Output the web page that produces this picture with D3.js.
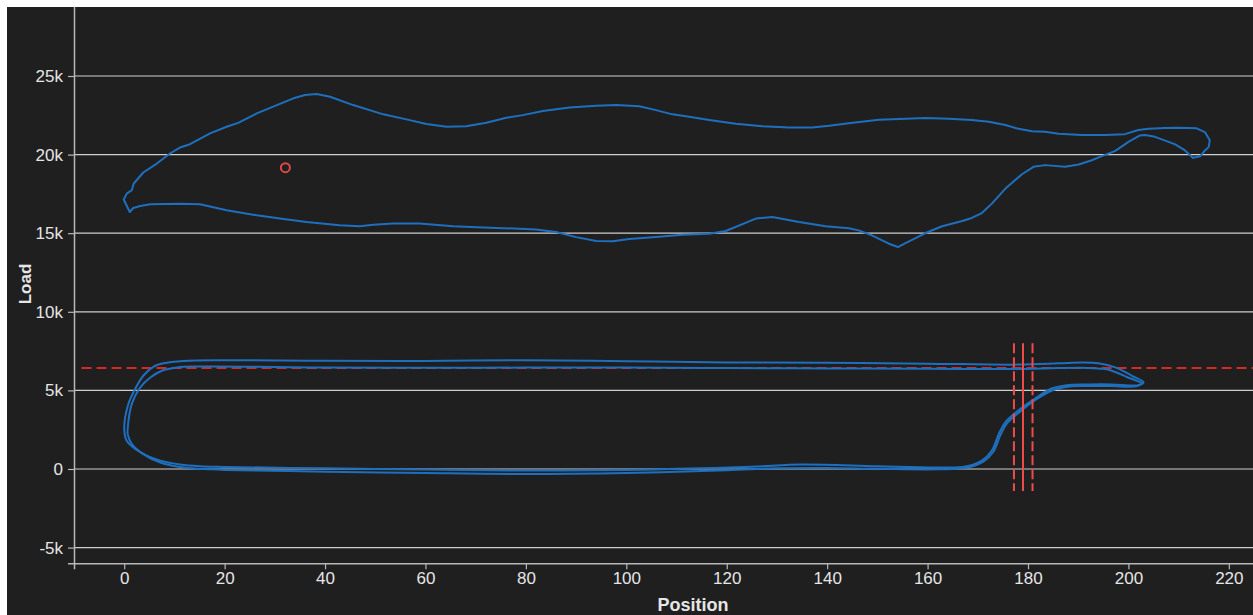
<!DOCTYPE html>
<html>
<head>
<meta charset="utf-8">
<script src="https://cdn.jsdelivr.net/npm/d3@7"></script>
<style>
  html, body { margin: 0; padding: 0; background: #ffffff; overflow: hidden; }
  svg { display: block; }
  text { font-family: "Liberation Sans", Arial, sans-serif; }
</style>
</head>
<body>
<svg id="chart" width="1253" height="615"></svg>
<script>
// ---------------- DATA ----------------
const xTicks = [0, 20, 40, 60, 80, 100, 120, 140, 160, 180, 200, 220];
const yTicks = [-5000, 0, 5000, 10000, 15000, 20000, 25000];
const xLabel = "Position";
const yLabel = "Load";

// upper closed loop [position, load]
const upperLoop = [
  [-0.1, 17140], [0.5, 17520], [1.5, 17730], [1.9, 18160], [3.8, 18860], [6.5, 19430],
  [9.1, 20070], [11.1, 20450], [13.1, 20660], [17.1, 21350], [20.4, 21770], [22.7, 22020],
  [26.4, 22620], [30.4, 23150], [33.7, 23580], [36.0, 23790], [38.3, 23850], [41.0, 23680],
  [45.6, 23150], [51.6, 22560], [56.2, 22240], [60.2, 21940], [64.2, 21770], [68.1, 21810],
  [72.1, 22020], [76.1, 22340], [79.4, 22510], [83.4, 22770], [88.7, 23000], [94.0, 23110],
  [98.0, 23150], [102.6, 23070], [105.9, 22830], [109.2, 22560], [112.5, 22410], [116.5, 22200],
  [121.8, 21960], [127.1, 21810], [132.4, 21730], [137.0, 21730], [140.4, 21830], [144.3, 22000],
  [150.3, 22220], [154.3, 22260], [159.6, 22320], [164.2, 22280], [168.8, 22200], [172.2, 22090],
  [175.5, 21880], [178.1, 21640], [180.8, 21490], [183.4, 21450], [186.1, 21320], [190.7, 21240],
  [195.4, 21240], [199.3, 21300], [202.0, 21560], [204.0, 21640], [207.3, 21690], [209.9, 21700],
  [213.6, 21670], [215.3, 21410], [216.2, 20920], [216.0, 20490], [215.3, 20280], [214.3, 19900],
  [212.9, 19790], [212.3, 19960], [211.2, 20280], [209.3, 20650], [208.0, 20810], [205.3, 21130],
  [203.3, 21240], [202.3, 21220], [200.0, 20810], [197.4, 20240], [194.7, 19900], [192.7, 19640],
  [190.1, 19370], [187.4, 19220], [183.4, 19330], [181.1, 19220], [178.8, 18750], [175.5, 17840],
  [172.8, 16880], [170.8, 16280], [168.8, 15970], [166.9, 15780], [162.9, 15440], [159.6, 15010],
  [155.6, 14370], [154.1, 14120], [152.3, 14330], [148.9, 14860], [146.3, 15180], [144.3, 15310],
  [139.7, 15440], [134.4, 15710], [129.1, 16030], [125.8, 15930], [119.8, 15140], [116.5, 14970],
  [111.2, 14900], [105.9, 14750], [100.6, 14630], [97.3, 14480], [94.0, 14500], [90.0, 14750],
  [86.0, 15070], [82.0, 15240], [78.7, 15290], [74.1, 15330], [69.1, 15390], [65.5, 15440],
  [58.8, 15610], [53.5, 15610], [49.6, 15540], [46.9, 15440], [42.9, 15500], [36.3, 15710],
  [31.0, 15930], [26.4, 16140], [20.4, 16460], [15.1, 16840], [11.1, 16880], [5.2, 16840],
  [3.2, 16730], [1.8, 16600], [1.1, 16350]
];

// lower closed loops [position, load]
const lowerLoopA = [
  [0.0, 2600], [0.8, 4100], [2.2, 5100], [3.8, 5930], [5.8, 6500], [7.8, 6720], [11.8, 6870],
  [20, 6920], [40, 6880], [60, 6870], [80, 6920], [100, 6860], [120, 6780], [140, 6760],
  [160, 6700], [178, 6640], [186, 6720], [191, 6780], [194, 6730], [197.4, 6460], [200.7, 5930],
  [203.0, 5510], [202.0, 5330], [196.7, 5380], [192, 5380], [188.7, 5360], [184.7, 5120],
  [181.4, 4480], [178.1, 3730], [175.5, 2980], [174.2, 2240], [172.8, 1180], [170.8, 540],
  [167.5, 160], [162.3, 100], [150, 170], [135, 280], [125, 140], [110, 10], [100, -60],
  [80, -100], [60, -40], [40, 40], [20, 130], [15.1, 170], [11.1, 280], [7.2, 530], [4.5, 850],
  [2.2, 1280], [0.5, 1800]
];
const lowerLoopB = [
  [0.7, 2600], [1.5, 4130], [3.2, 5190], [5.2, 5820], [7.5, 6250], [10.5, 6460], [15.1, 6520],
  [40, 6460], [60, 6440], [80, 6450], [100, 6450], [120, 6420], [140, 6400], [160, 6380],
  [178, 6360], [186, 6420], [192, 6430], [195, 6370], [196.7, 6250], [199.9, 5820], [202.6, 5440],
  [201.5, 5260], [196.7, 5280], [192, 5280], [188.7, 5260], [184.7, 4980], [181.4, 4380],
  [178.4, 3650], [175.8, 2900], [174.5, 2150], [173.1, 1100], [171.1, 470], [167.8, 90],
  [162.3, -20], [150, 10], [140, 60], [130, 40], [120, -80], [100, -250], [80, -320], [60, -260],
  [40, -170], [20, -60], [17.1, -20], [11.8, 90], [7.2, 410], [3.8, 950], [1.5, 1600], [0.7, 2200]
];

const thresholdLoad = [6430];          // red dashed horizontal
const limitPositions = [177.2, 179.0, 180.9]; // dashed, solid, dashed verticals
const limitLoadRange = [8000, -1400];
const markerPoint = [[32.1, 19170]];

// ---------------- CHART ----------------
const svg = d3.select("#chart");
const W = 1253, H = 615;

svg.append("rect").attr("x", 7).attr("y", 7).attr("width", W).attr("height", H).attr("fill", "#1f1f1f");

const x = d3.scaleLinear().domain([-10, 236.5]).range([74, 1311.7]);
const y = d3.scaleLinear().domain([-6000, 29580]).range([563.3, 4]);

// grid lines
svg.append("g").selectAll("line").data(yTicks).join("line")
  .attr("x1", x(-10)).attr("x2", W)
  .attr("y1", d => y(d)).attr("y2", d => y(d))
  .attr("stroke", "#cfcfcf").attr("stroke-width", 1.2);

// axes
const fmtY = d => d === 0 ? "0" : (d / 1000) + "k";
const gx = svg.append("g").attr("transform", `translate(0,${y(-6000)})`)
  .call(d3.axisBottom(x).tickValues(xTicks).tickSize(6).tickPadding(3));
const gy = svg.append("g").attr("transform", `translate(${x(-10)},0)`)
  .call(d3.axisLeft(y).tickValues(yTicks).tickFormat(fmtY).tickSize(6).tickPadding(5));
[gx, gy].forEach(g => {
  g.select(".domain").attr("stroke", "#b8b8b8").attr("stroke-width", 1.5);
  g.selectAll(".tick line").attr("stroke", "#b8b8b8").attr("stroke-width", 1.2);
  g.selectAll(".tick text").attr("fill", "#e6e6e6").style("font-size", "17px")
    .style("font-family", "'Liberation Sans', Arial, sans-serif");
});

// axis titles
svg.append("text").attr("x", 693).attr("y", 611).attr("text-anchor", "middle")
  .attr("fill", "#e6e6e6").style("font-size", "18px").style("font-weight", "bold").text(xLabel);
svg.append("text").attr("transform", "translate(31,284) rotate(-90)").attr("text-anchor", "middle")
  .attr("fill", "#e6e6e6").style("font-size", "17px").style("font-weight", "bold").text(yLabel);

// threshold dashed horizontal
svg.append("g").selectAll("line").data(thresholdLoad).join("line")
  .attr("x1", x(-8.5)).attr("x2", W)
  .attr("y1", d => y(d)).attr("y2", d => y(d))
  .attr("stroke", "#d42a2a").attr("stroke-width", 2).attr("stroke-dasharray", "10,5");

// loops
const lineLinear = d3.line().x(d => x(d[0])).y(d => y(d[1])).curve(d3.curveLinearClosed);
const lineSmooth = d3.line().x(d => x(d[0])).y(d => y(d[1])).curve(d3.curveCatmullRomClosed.alpha(0.5));

svg.append("path").datum(upperLoop).attr("d", lineLinear)
  .attr("fill", "none").attr("stroke", "#1f6fbf").attr("stroke-width", 2).attr("stroke-linejoin", "round");
[lowerLoopA, lowerLoopB].forEach(loop => {
  svg.append("path").datum(loop).attr("d", lineSmooth)
    .attr("fill", "none").attr("stroke", "#1f6fbf").attr("stroke-width", 2).attr("stroke-linejoin", "round");
});

// vertical limit lines
svg.append("g").selectAll("line").data(limitPositions).join("line")
  .attr("x1", d => x(d)).attr("x2", d => x(d))
  .attr("y1", y(limitLoadRange[0])).attr("y2", y(limitLoadRange[1]))
  .attr("stroke", "#f04a4a").attr("stroke-width", 2)
  .attr("stroke-dasharray", (d, i) => i === 1 ? null : "10,4");

// marker
svg.append("g").selectAll("circle").data(markerPoint).join("circle")
  .attr("cx", d => x(d[0])).attr("cy", d => y(d[1])).attr("r", 4.5)
  .attr("fill", "none").attr("stroke", "#e04848").attr("stroke-width", 2);

// white page margin strips
svg.append("rect").attr("x", 0).attr("y", 0).attr("width", W).attr("height", 7).attr("fill", "#ffffff");
svg.append("rect").attr("x", 0).attr("y", 0).attr("width", 7).attr("height", H).attr("fill", "#ffffff");
</script>
</body>
</html>
